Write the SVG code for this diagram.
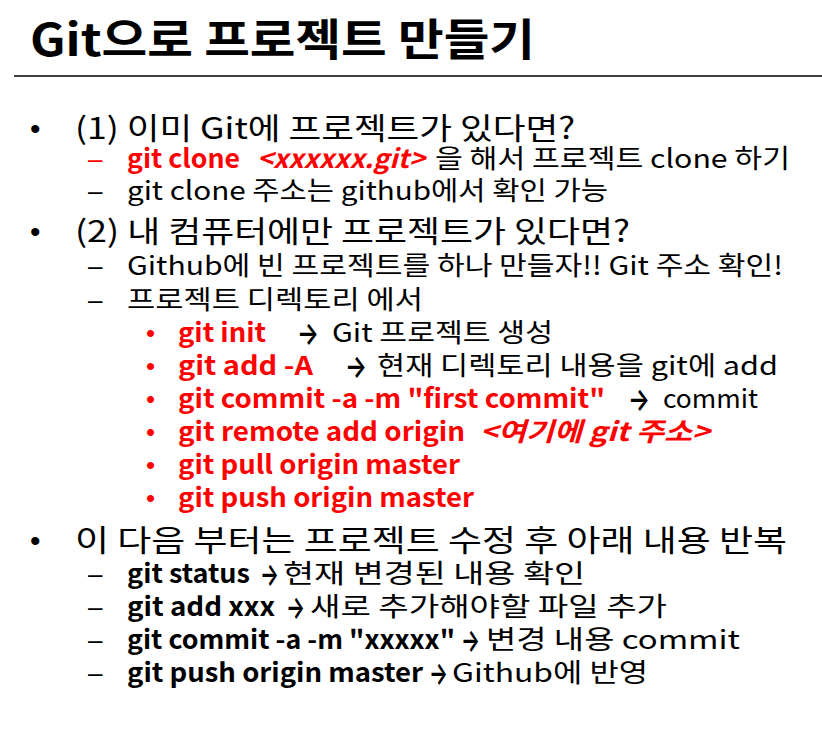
<svg xmlns="http://www.w3.org/2000/svg" width="822" height="732" viewBox="0 0 822 732">
<style>
text{font-family:"Noto Sans CJK KR","Noto Sans",sans-serif;fill:#000;}
.t{font-size:44px;font-weight:700;}
.l1{font-size:30px;}
.l2{font-size:26px;}
.b{font-weight:700;}
.i{font-style:italic;}
.r{fill:#ff0000;}
.bu{font-family:"Liberation Sans",sans-serif;}
.ar{font-family:Inter,"DejaVu Sans",sans-serif;font-size:31px;font-weight:600;}
</style>
<rect width="822" height="732" fill="#fff"/>
<g id="title">
<text class="t" x="30" y="56" textLength="505" lengthAdjust="spacingAndGlyphs">Git으로 프로젝트 만들기</text>
<line x1="14" y1="76" x2="822" y2="76" stroke="#000" stroke-width="1.5"/>
</g>
<g id="section1">
<text class="l1 bu" x="30" y="139">•</text>
<text class="l1" x="75" y="139" textLength="500" lengthAdjust="spacingAndGlyphs">(1) 이미 Git에 프로젝트가 있다면?</text>
<text class="l2 bu r" x="88" y="168">–</text>
<text class="l2 b r" x="127" y="168" textLength="113" lengthAdjust="spacingAndGlyphs">git clone</text>
<text class="l2 b i r" x="257" y="168" textLength="168" lengthAdjust="spacingAndGlyphs">&lt;xxxxxx.git&gt;</text>
<text class="l2" x="435" y="168" textLength="355" lengthAdjust="spacingAndGlyphs">을 해서 프로젝트 clone 하기</text>
<text class="l2 bu" x="88" y="200">–</text>
<text class="l2" x="127" y="200" textLength="481" lengthAdjust="spacingAndGlyphs">git clone 주소는 github에서 확인 가능</text>
</g>
<g id="section2">
<text class="l1 bu" x="30" y="242">•</text>
<text class="l1" x="75" y="242" textLength="555" lengthAdjust="spacingAndGlyphs">(2) 내 컴퓨터에만 프로젝트가 있다면?</text>
<text class="l2 bu" x="88" y="275">–</text>
<text class="l2" x="127" y="275" textLength="656" lengthAdjust="spacingAndGlyphs">Github에 빈 프로젝트를 하나 만들자!! Git 주소 확인!</text>
<text class="l2 bu" x="88" y="309">–</text>
<text class="l2" x="127" y="309" textLength="296" lengthAdjust="spacingAndGlyphs">프로젝트 디렉토리 에서</text>
<text class="l2 bu r" x="146" y="342">•</text>
<text class="l2 b r" x="178" y="342" textLength="88" lengthAdjust="spacingAndGlyphs">git init</text>
<text class="ar" x="297" y="344" textLength="22" lengthAdjust="spacingAndGlyphs">→</text>
<text class="l2" x="332" y="342" textLength="221" lengthAdjust="spacingAndGlyphs">Git 프로젝트 생성</text>
<text class="l2 bu r" x="146" y="375">•</text>
<text class="l2 b r" x="178" y="375" textLength="135" lengthAdjust="spacingAndGlyphs">git add -A</text>
<text class="ar" x="345" y="377" textLength="22" lengthAdjust="spacingAndGlyphs">→</text>
<text class="l2" x="377" y="375" textLength="401" lengthAdjust="spacingAndGlyphs">현재 디렉토리 내용을 git에 add</text>
<text class="l2 bu r" x="146" y="408">•</text>
<text class="l2 b r" x="178" y="408" textLength="427" lengthAdjust="spacingAndGlyphs">git commit -a -m "first commit"</text>
<text class="ar" x="628" y="410" textLength="22" lengthAdjust="spacingAndGlyphs">→</text>
<text class="l2" x="663" y="408" textLength="95" lengthAdjust="spacingAndGlyphs">commit</text>
<text class="l2 bu r" x="146" y="441">•</text>
<text class="l2 b r" x="178" y="441" textLength="287" lengthAdjust="spacingAndGlyphs">git remote add origin</text>
<text class="l2 b i r" x="480" y="441" textLength="230" lengthAdjust="spacingAndGlyphs">&lt;여기에 git 주소&gt;</text>
<text class="l2 bu r" x="146" y="474">•</text>
<text class="l2 b r" x="178" y="474" textLength="282" lengthAdjust="spacingAndGlyphs">git pull origin master</text>
<text class="l2 bu r" x="146" y="507">•</text>
<text class="l2 b r" x="178" y="507" textLength="296" lengthAdjust="spacingAndGlyphs">git push origin master</text>
</g>
<g id="section3">
<text class="l1 bu" x="30" y="551">•</text>
<text class="l1" x="75" y="551" textLength="712" lengthAdjust="spacingAndGlyphs">이 다음 부터는 프로젝트 수정 후 아래 내용 반복</text>
<text class="l2 bu" x="88" y="583">–</text>
<text class="l2 b" x="127" y="583" textLength="123" lengthAdjust="spacingAndGlyphs">git status</text>
<text class="ar" x="260" y="585" textLength="19" lengthAdjust="spacingAndGlyphs">→</text>
<text class="l2" x="283" y="583" textLength="302" lengthAdjust="spacingAndGlyphs">현재 변경된 내용 확인</text>
<text class="l2 bu" x="88" y="616">–</text>
<text class="l2 b" x="127" y="616" textLength="148" lengthAdjust="spacingAndGlyphs">git add xxx</text>
<text class="ar" x="286" y="618" textLength="19" lengthAdjust="spacingAndGlyphs">→</text>
<text class="l2" x="310" y="616" textLength="357" lengthAdjust="spacingAndGlyphs">새로 추가해야할 파일 추가</text>
<text class="l2 bu" x="88" y="649">–</text>
<text class="l2 b" x="127" y="649" textLength="328" lengthAdjust="spacingAndGlyphs">git commit -a -m "xxxxx"</text>
<text class="ar" x="461" y="651" textLength="19" lengthAdjust="spacingAndGlyphs">→</text>
<text class="l2" x="486" y="649" textLength="254" lengthAdjust="spacingAndGlyphs">변경 내용 commit</text>
<text class="l2 bu" x="88" y="682">–</text>
<text class="l2 b" x="127" y="682" textLength="296" lengthAdjust="spacingAndGlyphs">git push origin master</text>
<text class="ar" x="429" y="684" textLength="19" lengthAdjust="spacingAndGlyphs">→</text>
<text class="l2" x="452" y="682" textLength="196" lengthAdjust="spacingAndGlyphs">Github에 반영</text>
</g>
</svg>
